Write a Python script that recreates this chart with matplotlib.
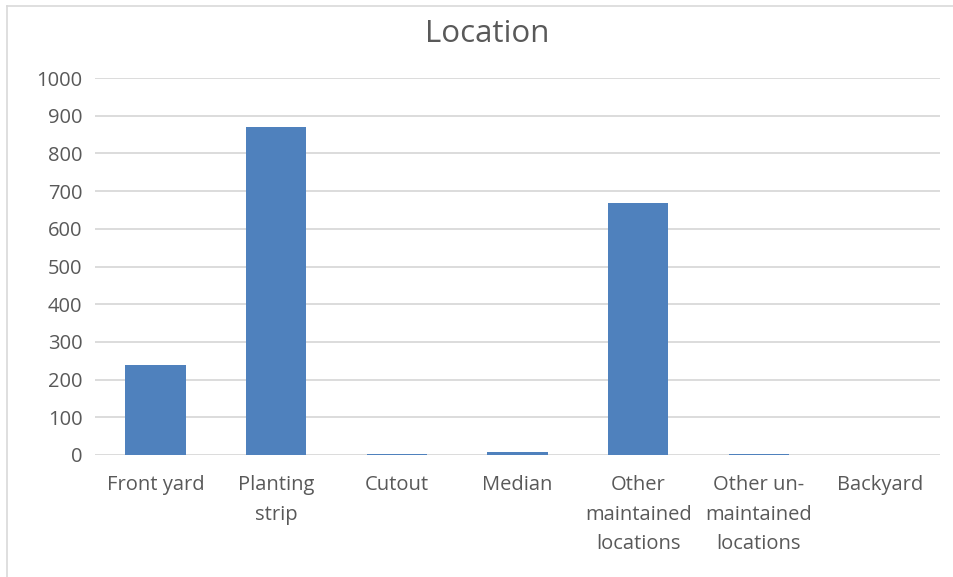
import matplotlib
matplotlib.use("Agg")
import matplotlib.pyplot as plt
from matplotlib.lines import Line2D

categories = ["Front yard", "Planting\nstrip", "Cutout", "Median",
              "Other\nmaintained\nlocations", "Other un-\nmaintained\nlocations", "Backyard"]
counts = [238, 870, 2, 9, 668, 3, 0]
y_ticks = [0, 100, 200, 300, 400, 500, 600, 700, 800, 900, 1000]

plt.rcParams['font.family'] = ['Open Sans', 'DejaVu Sans']
text_color = "#595959"

fig = plt.figure(figsize=(9.54, 5.77), dpi=100)
ax = fig.add_axes([95 / 954, 1 - 455 / 577, 845 / 954, (455 - 78) / 577])

x = list(range(len(categories)))
ax.bar(x, counts, width=0.5, color="#4F81BD", zorder=3)

ax.set_xlim(-0.5, len(categories) - 0.5)
ax.set_ylim(0, 1000)
ax.set_yticks(y_ticks)
ax.set_yticklabels([str(v) for v in y_ticks], color=text_color, fontsize=14.5)
ax.set_xticks(x)
ax.set_xticklabels(categories, color=text_color, fontsize=14.5, linespacing=1.64, va="top")
ax.tick_params(axis="both", length=0)
ax.tick_params(axis="y", pad=9)
ax.tick_params(axis="x", pad=14.5)
ax.grid(axis="y", color="#D9D9D9", linewidth=1.3, zorder=0)
for s in ax.spines.values():
    s.set_visible(False)

fig.text(0.511, 1 - 34 / 577, "Location", ha="center", va="center",
         fontsize=22.5, color=text_color)

# chart frame edges
fig.add_artist(Line2D([7 / 954, 7 / 954], [0, 1 - 6 / 577], transform=fig.transFigure,
                      color="#D9D9D9", linewidth=1.2))
fig.add_artist(Line2D([7 / 954, 1], [1 - 6 / 577, 1 - 6 / 577], transform=fig.transFigure,
                      color="#D9D9D9", linewidth=1.2))

fig.savefig("out.png", dpi=100)
